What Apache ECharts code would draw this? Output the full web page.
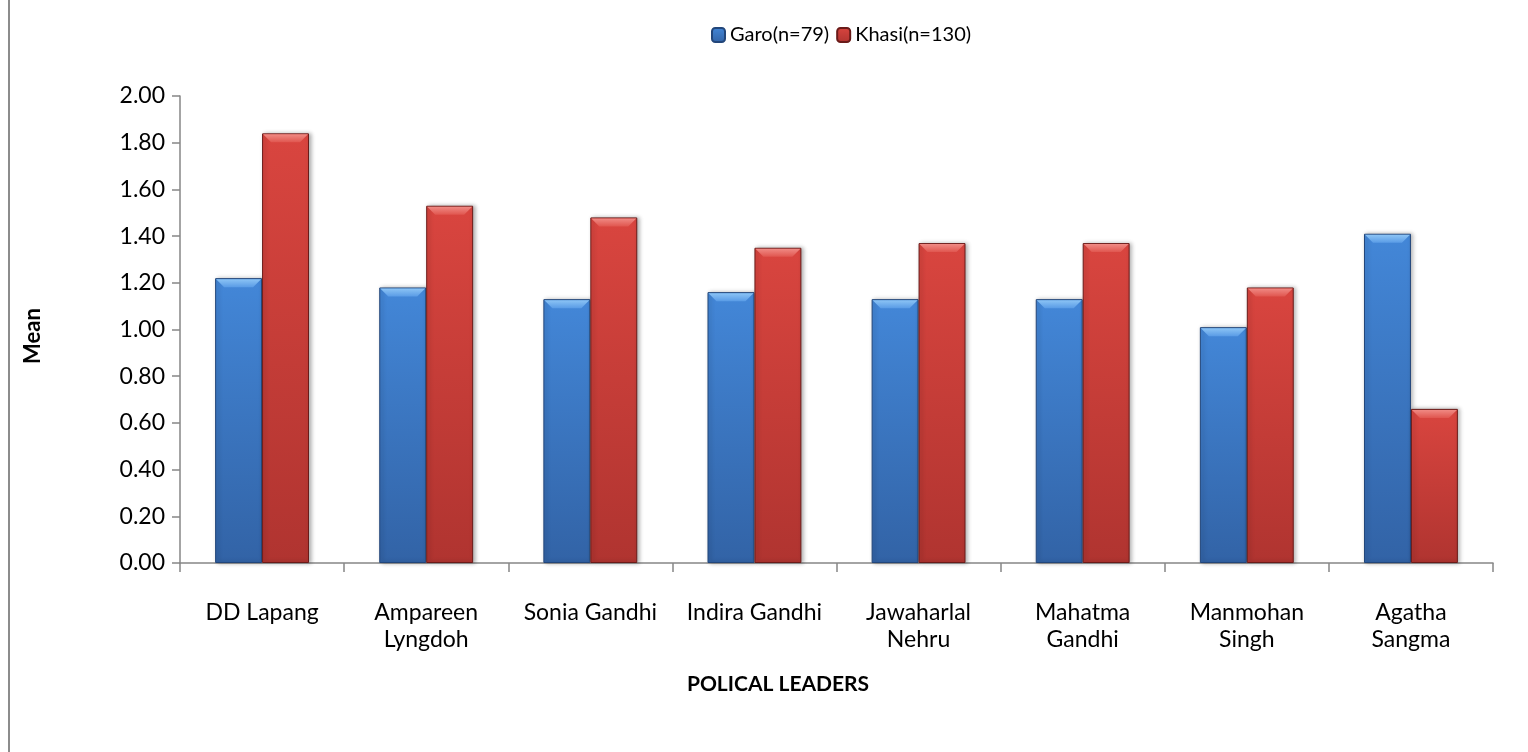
<!DOCTYPE html>
<html>
<head>
<meta charset="utf-8">
<title>Political leaders – mean scores</title>
<script src="https://cdn.jsdelivr.net/npm/echarts@6/dist/echarts.min.js"></script>
<style>
  html, body { margin: 0; padding: 0; background: #ffffff; }
  #chart { width: 1528px; height: 752px; }
</style>
</head>
<body>
<div id="chart"></div>
<script>
// Leaders shown on the x axis
const categories = ['DD Lapang', 'Ampareen\nLyngdoh', 'Sonia Gandhi', 'Indira Gandhi',
  'Jawaharlal\nNehru', 'Mahatma\nGandhi', 'Manmohan\nSingh', 'Agatha\nSangma'];
// Mean score per tribe
const garo = [1.22, 1.18, 1.13, 1.16, 1.13, 1.13, 1.01, 1.41];
const khasi = [1.84, 1.53, 1.48, 1.35, 1.37, 1.37, 1.18, 0.66];
const seriesNames = ['Garo(n=79)', 'Khasi(n=130)'];
// Value axis range and step
const yMin = 0, yMax = 2, yStep = 0.2;

const FONT = 'Lato, "Open Sans", sans-serif';
const BAR_SHARE = 0.286; // bar width as share of the category band

const blueBody = new echarts.graphic.LinearGradient(0, 0, 0, 1, [
  { offset: 0, color: '#4387d8' }, { offset: 1, color: '#3263a6' }]);
const redBody = new echarts.graphic.LinearGradient(0, 0, 0, 1, [
  { offset: 0, color: '#d9453f' }, { offset: 1, color: '#b03430' }]);
const blueCap = new echarts.graphic.LinearGradient(0, 0, 0, 1, [
  { offset: 0, color: '#8cc4f5' }, { offset: 1, color: '#5a9ce6' }]);
const redCap = new echarts.graphic.LinearGradient(0, 0, 0, 1, [
  { offset: 0, color: '#f08a84' }, { offset: 1, color: '#e0564f' }]);

// Bevelled top face of each bar, placed with the chart's own scales
function capItem(params, api) {
  const idx = api.value(0), val = api.value(1), side = api.value(2);
  const top = api.coord([idx, val]);
  const base = api.coord([idx, 0]);
  const bw = api.size([1, 0])[0] * BAR_SHARE;
  const x0 = side === 0 ? top[0] - bw : top[0];
  const x1 = x0 + bw;
  const h = Math.min(9, base[1] - top[1]);
  return {
    type: 'polygon',
    shape: { points: [[x0 + 1, top[1] + 1], [x1 - 1, top[1] + 1], [x1 - 9, top[1] + h], [x0 + 9, top[1] + h]] },
    style: { fill: side === 0 ? blueCap : redCap },
    silent: true
  };
}

const chart = echarts.init(document.getElementById('chart'), null, { renderer: 'canvas' });

chart.setOption({
  backgroundColor: '#ffffff',
  animation: false,
  textStyle: { fontFamily: FONT },
  legend: {
    data: seriesNames,
    left: 706,
    top: 20,
    itemWidth: 13,
    itemHeight: 14,
    itemGap: 7,
    textStyle: { fontFamily: FONT, fontSize: 20, color: '#000000' }
  },
  grid: { left: 180, right: 35, top: 96, bottom: 189 },
  xAxis: {
    type: 'category',
    data: categories,
    axisLine: { lineStyle: { color: '#868686', width: 1.5 } },
    axisTick: { show: true, length: 9, lineStyle: { color: '#868686', width: 1.5 } },
    axisLabel: { interval: 0, margin: 36, fontFamily: FONT, fontSize: 23, color: '#000000', lineHeight: 27, align: 'center' },
    splitLine: { show: false }
  },
  yAxis: {
    type: 'value',
    min: yMin, max: yMax, interval: yStep,
    axisLine: { show: true, lineStyle: { color: '#868686', width: 1.5 } },
    axisTick: { show: true, length: 8, lineStyle: { color: '#868686', width: 1.5 } },
    axisLabel: { margin: 15, fontFamily: FONT, fontSize: 23, color: '#000000', formatter: v => v.toFixed(2) },
    splitLine: { show: false }
  },
  graphic: [
    { type: 'line', shape: { x1: 9, y1: 0, x2: 9, y2: 752 }, style: { stroke: '#8c8c8c', lineWidth: 2 } },
    { type: 'text', x: 33, y: 336, rotation: Math.PI / 2,
      style: { text: 'Mean', font: 'bold 22px ' + FONT, fill: '#000000', align: 'center', verticalAlign: 'middle' } },
    { type: 'text', x: 778, y: 684,
      style: { text: 'POLICAL LEADERS', font: 'bold 21px ' + FONT, fill: '#000000', align: 'center', verticalAlign: 'middle' } }
  ],
  series: [
    {
      name: seriesNames[0], type: 'bar', data: garo,
      barWidth: (BAR_SHARE * 100) + '%', barGap: '0%',
      itemStyle: { color: blueBody, borderColor: '#22467a', borderWidth: 1,
        shadowColor: 'rgba(0,0,0,0.3)', shadowBlur: 4, shadowOffsetX: 2, shadowOffsetY: 0 }
    },
    {
      name: seriesNames[1], type: 'bar', data: khasi,
      barWidth: (BAR_SHARE * 100) + '%', barGap: '0%',
      itemStyle: { color: redBody, borderColor: '#6a1b19', borderWidth: 1,
        shadowColor: 'rgba(0,0,0,0.3)', shadowBlur: 4, shadowOffsetX: 2, shadowOffsetY: 0 }
    },
    {
      type: 'custom', silent: true, z: 5, renderItem: capItem,
      data: garo.map((v, i) => [i, v, 0]).concat(khasi.map((v, i) => [i, v, 1]))
    }
  ]
});
</script>
</body>
</html>
